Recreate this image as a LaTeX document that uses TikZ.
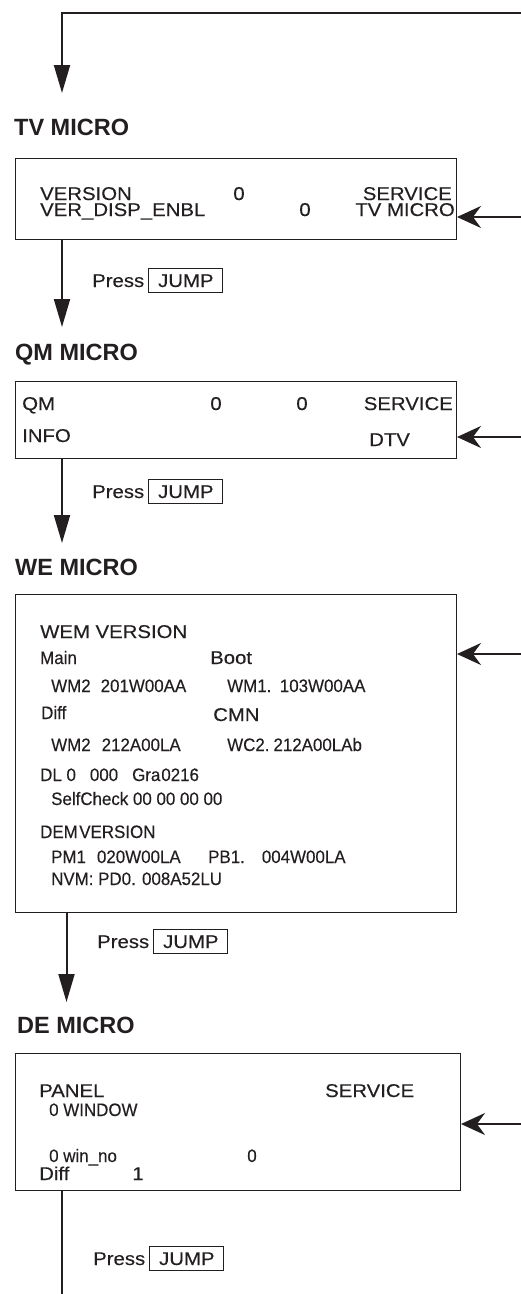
\documentclass[tikz,border=0pt]{standalone}
\usepackage{fontspec}
\setmainfont{Liberation Sans}
\newfontfamily\widefont{Liberation Sans}[FakeStretch=1.1,FakeBold=0.3]
\newfontfamily\narrowfont{Liberation Sans}[FakeStretch=0.94,FakeBold=0.3]
\usetikzlibrary{positioning,arrows.meta}
\definecolor{ink}{RGB}{35,31,32}
\newcommand{\wtext}{\widefont\fontsize{18.5}{20}\selectfont}
\newcommand{\ptext}{\narrowfont\fontsize{18}{20}\selectfont}
\newcommand{\ttext}{\bfseries\fontsize{23.5}{26}\selectfont}
\tikzset{
  screen/.style={draw=ink, line width=1pt, anchor=north west, inner sep=0pt},
  wlab/.style={font=\wtext, text=ink, inner sep=0pt, anchor=base west},
  plab/.style={font=\ptext, text=ink, inner sep=0pt, anchor=base west},
  heading/.style={font=\ttext, text=ink, inner sep=0pt, anchor=base west},
  keycap/.style={draw=ink, line width=0.8pt, font=\wtext, text=ink,
    minimum width=74pt, minimum height=24pt, inner sep=0pt},
  flow/.style={draw=ink, line width=2pt, -{Triangle[length=28pt,width=16pt]}},
  feed/.style={draw=ink, line width=2pt, -{Stealth[length=24pt,width=22pt,inset=8pt]}}
}
\begin{document}
\begin{tikzpicture}[x=1pt,y=-1pt]
        \useasboundingbox (0,0) rectangle (521,1294);
        % Return loop into TV micro
        \coordinate (loopin) at (521,13);
        \coordinate (tvin) at (62,93);
        \draw[flow] (loopin) -| (tvin);
        % TV micro
        \node[heading] (tvtitle) at (14,135) {TV MICRO};
        \node[screen, minimum width=441pt, minimum height=81pt] (tvbox) at (15,158) {};
        \node[wlab] (tvver) at (40,200) {VERSION};
        \node[wlab, anchor=base] (tvverval) at (239,200) {0};
        \node[wlab, anchor=base east] (tvsvc) at (452,200) {SERVICE};
        \node[wlab] (tvdisp) at (40,216) {VER\_DISP\_ENBL};
        \node[wlab, anchor=base] (tvdispval) at (305,216) {0};
        \node[wlab, anchor=base east] (tvmode) at (455,216) {TV MICRO};
        \coordinate (tvfeed) at (521,217);
        \draw[feed] (tvfeed) -- (tvfeed -| tvbox.east);
        % QM micro
        \coordinate (qmin) at (62,327);
        \draw[flow] (tvbox.south -| qmin) -- (qmin);
        \node[heading] (qmtitle) at (15,360) {QM MICRO};
        \node[screen, minimum width=441pt, minimum height=77pt] (qmbox) at (15,381) {};
        \node[wlab] (qmname) at (22,410) {QM};
        \node[wlab, anchor=base] (qmvala) at (216,410) {0};
        \node[wlab, anchor=base] (qmvalb) at (302,410) {0};
        \node[wlab, anchor=base east] (qmsvc) at (453,410) {SERVICE};
        \node[wlab] (qminfo) at (22,442) {INFO};
        \node[wlab] (qmdtv) at (369,446) {DTV};
        \coordinate (qmfeed) at (521,437);
        \draw[feed] (qmfeed) -- (qmfeed -| qmbox.east);
        % WE micro
        \coordinate (wein) at (62,543);
        \draw[flow] (qmbox.south -| wein) -- (wein);
        \node[heading] (wetitle) at (15,575) {WE MICRO};
        \node[screen, minimum width=441pt, minimum height=318pt] (webox) at (15,594) {};
        \node[wlab] (wemver) at (40,638) {WEM VERSION};
        \node[plab] (wemain) at (40,664) {Main};
        \node[wlab] (weboot) at (210,664) {Boot};
        \node[plab] (wemainver) at (51,692) {WM2\hspace{10pt}201W00AA};
        \node[plab] (webootver) at (227,692) {WM1.\hspace{8.5pt}103W00AA};
        \node[plab] (wediff) at (41,719) {Diff};
        \node[wlab] (wecmn) at (213,721) {CMN};
        \node[plab] (wediffver) at (51,751) {WM2\hspace{11pt}212A00LA};
        \node[plab] (wecmnver) at (227,751) {WC2.\hspace{4pt}212A00LAb};
        \node[plab] (wedl) at (40,781) {DL 0\hspace{14pt}000\hspace{14pt}Gra\hspace{1pt}0216};
        \node[plab] (weself) at (51,805) {SelfCheck 00 00 00 00};
        \node[plab] (wedemver) at (40,838) {DEM\hspace{1.5pt}VERSION};
        \node[plab] (wepm) at (51,863) {PM1\hspace{11pt}020W00LA};
        \node[plab] (wepb) at (208,863) {PB1.\hspace{17pt}004W00LA};
        \node[plab] (wenvm) at (51,885) {NVM: PD0. 008A52LU};
        \coordinate (wefeed) at (521,654);
        \draw[feed] (wefeed) -- (wefeed -| webox.east);
        % DE micro
        \coordinate (dein) at (66.5,1002);
        \draw[flow] (webox.south -| dein) -- (dein);
        \node[heading] (detitle) at (17,1033) {DE MICRO};
        \node[screen, minimum width=445pt, minimum height=137pt] (debox) at (15,1053) {};
        \node[wlab] (depanel) at (39,1097) {PANEL};
        \node[wlab] (desvc) at (325,1097) {SERVICE};
        \node[plab] (dewin) at (49,1116) {0 WINDOW};
        \node[plab] (dewinno) at (49,1162) {0 win\_no};
        \node[plab, anchor=base] (dewinval) at (252,1162) {0};
        \node[wlab] (dediff) at (39,1180) {Diff};
        \node[wlab, anchor=base] (dediffval) at (138,1180) {1};
        \coordinate (defeed) at (521,1124);
        \draw[feed] (defeed) -- (defeed -| debox.east);
        % Leaving DE micro
        \coordinate (deout) at (62,1294);
        \draw[draw=ink, line width=2pt] (debox.south -| deout) -- (deout);
        % Press JUMP keys
        \foreach \i/\x/\y in {1/92/287, 2/92/498, 3/97/948, 4/93/1265} {
          \node[wlab] (press\i) at (\x,\y) {Press};
          \node[keycap, right=4pt of press\i] (jump\i) {JUMP};
        }
\end{tikzpicture}
\end{document}
